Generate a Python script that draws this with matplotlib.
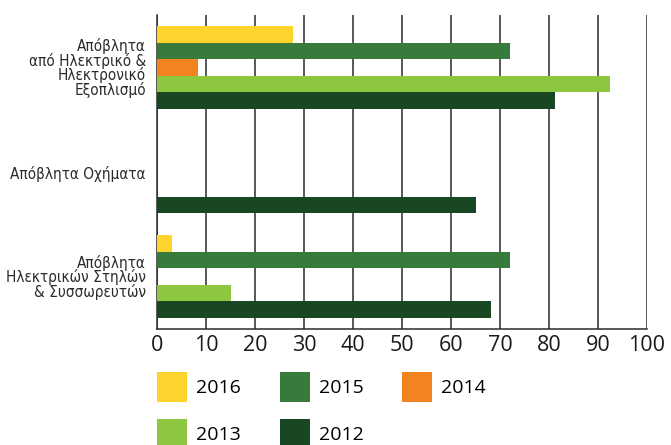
import matplotlib
matplotlib.use("Agg")
import matplotlib.pyplot as plt
import numpy as np
from matplotlib.patches import Patch

categories = ["Απόβλητα\nαπό Ηλεκτρικό &\nΗλεκτρονικό\nΕξοπλισμό",
              "Απόβλητα Οχήματα",
              "Απόβλητα\nΗλεκτρικών Στηλών\n& Συσσωρευτών"]
years = ["2016", "2015", "2014", "2013", "2012"]
colors = ["#FDD42E", "#377A3B", "#F38321", "#8DC63F", "#194724"]
v2016 = [27.7, 0, 3.1]
v2015 = [72.1, 0, 72.1]
v2014 = [8.4, 0, 0]
v2013 = [92.4, 0, 15.1]
v2012 = [81.3, 65.0, 68.2]
series = [v2016, v2015, v2014, v2013, v2012]
xticks = [0, 10, 20, 30, 40, 50, 60, 70, 80, 90, 100]

fig = plt.figure(figsize=(6.71, 4.45), dpi=100)
ax = fig.add_axes([157/671, 1-329/445, 490/671, 314/445])

y = np.arange(len(categories))
h = 0.158
for i, (vals, c) in enumerate(zip(series, colors)):
    ax.barh(y + (i - 2) * h, vals, height=h, color=c, zorder=3, label=years[i])

ax.set_xlim(0, 100)
ax.set_ylim(2.5, -0.5)
ax.set_xticks(xticks)
ax.set_xticklabels([str(t) for t in xticks], fontsize=15.5, family=["Open Sans", "DejaVu Sans"], color="#1a1a1a")
ax.set_yticks(y)
ax.set_yticklabels(categories, fontsize=11, family=["DejaVu Sans"], fontstretch="condensed",
                   linespacing=0.88, color="#2a2a2a")
ax.tick_params(axis="y", length=0, pad=8)
ax.tick_params(axis="x", length=0, pad=4)
ax.grid(axis="x", color="#2b2b2b", linewidth=1.1, zorder=0)
for s in ["top", "right"]:
    ax.spines[s].set_visible(False)
for s in ["left", "bottom"]:
    ax.spines[s].set_color("#2b2b2b")
    ax.spines[s].set_linewidth(1.1)

order = [0, 3, 1, 4, 2]
handles = [Patch(facecolor=colors[k], edgecolor="none") for k in order]
labels = [years[k] for k in order]
fig.legend(handles, labels, loc="upper left", bbox_to_anchor=(157/671, 1-372/445), ncol=3,
           frameon=False, prop={"family": ["Open Sans", "DejaVu Sans"], "size": 14},
           handlelength=1.55, handleheight=2.0, handletextpad=0.45, columnspacing=2.0,
           labelspacing=0.88, borderaxespad=0, borderpad=0)

fig.savefig("out.png", dpi=100)
